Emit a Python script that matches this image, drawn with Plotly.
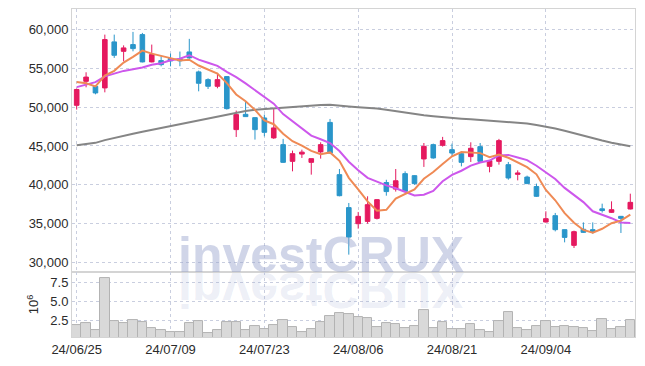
import plotly.graph_objects as go
from plotly.subplots import make_subplots

dates = [
    "2024-06-25", "2024-06-26", "2024-06-27", "2024-06-28",
    "2024-07-01", "2024-07-02", "2024-07-03", "2024-07-04", "2024-07-05",
    "2024-07-08", "2024-07-09", "2024-07-10", "2024-07-11", "2024-07-12",
    "2024-07-15", "2024-07-16", "2024-07-17", "2024-07-18", "2024-07-19",
    "2024-07-22", "2024-07-23", "2024-07-24", "2024-07-25", "2024-07-26",
    "2024-07-29", "2024-07-30", "2024-07-31", "2024-08-01", "2024-08-02",
    "2024-08-05", "2024-08-06", "2024-08-07", "2024-08-08", "2024-08-09",
    "2024-08-12", "2024-08-13", "2024-08-14", "2024-08-16",
    "2024-08-19", "2024-08-20", "2024-08-21", "2024-08-22", "2024-08-23",
    "2024-08-26", "2024-08-27", "2024-08-28", "2024-08-29", "2024-08-30",
    "2024-09-02", "2024-09-03", "2024-09-04", "2024-09-05", "2024-09-06",
    "2024-09-09", "2024-09-10", "2024-09-11", "2024-09-12", "2024-09-13",
    "2024-09-19", "2024-09-20",
]

opens = [50250, 53350, 52700, 52500, 58450, 57230, 58100, 59390, 55860, 56030,
         56290, 56250, 57150, 54570, 53570, 52710, 53960, 47110, 49090, 48660,
         48620, 46040, 45170, 43010, 43950, 42880, 44230, 48040, 41290, 37030,
         34950, 35250, 35640, 40270, 39420, 41420, 41160, 43320, 45170, 45080,
         44520, 44000, 43620, 44910, 42360, 43010, 42580, 41330, 40980, 39750,
         35170, 35990, 34180, 32150, 34230, 34180, 36870, 36420, 35900, 36850]
highs = [52400, 54520, 52800, 59390, 59390, 58000, 59740, 59610, 58100, 56590,
         56940, 57200, 58840, 54740, 53740, 54440, 54000, 49570, 50770, 48700,
         49050, 49790, 45910, 44400, 44520, 43360, 45470, 48490, 42020, 37630,
         36470, 38490, 38100, 40630, 42020, 41720, 41200, 45380, 45300, 46170,
         45300, 44100, 45470, 45380, 43150, 45910, 42930, 41850, 41160, 40130,
         36550, 36340, 34200, 34050, 35120, 35120, 37540, 37840, 35950, 38830]
lows = [49700, 52580, 51670, 51930, 56380, 55940, 57230, 55800, 55800, 55290,
        55290, 55300, 56250, 52060, 52360, 52450, 49700, 46160, 48750, 45820,
        46240, 45910, 42800, 41720, 43450, 41290, 43360, 44000, 38490, 30950,
        34310, 34950, 35500, 38570, 39100, 39050, 39990, 42290, 43350, 44910,
        43650, 42360, 42930, 42930, 41590, 42580, 40640, 40550, 40100, 38400,
        35100, 33960, 32540, 31810, 33750, 33660, 36390, 36340, 33750, 36800]
closes = [52300, 53900, 51850, 58750, 56720, 57670, 57580, 55860, 56810, 55510,
          55990, 56000, 56380, 53100, 52710, 53570, 49820, 49050, 48790, 47110,
          46760, 47330, 42880, 44000, 44200, 43360, 45170, 44080, 38570, 33220,
          35900, 37410, 38060, 39100, 40500, 39130, 40130, 44950, 43450, 45690,
          44080, 42880, 44700, 43010, 43100, 45690, 40860, 41500, 40130, 38490,
          35600, 34180, 33180, 33920, 33830, 33880, 36650, 36760, 35640, 37710]

ma5 = [53270, 53100, 52700, 54100, 54704, 55778, 56514, 57316, 56928, 56686,
       56350, 56034, 56138, 55396, 54836, 54352, 53116, 51650, 50788, 49668,
       48306, 47808, 46574, 45616, 45034, 44354, 43922, 44162, 43076, 40880,
       39388, 37836, 36632, 36738, 38194, 38840, 39384, 40762, 41632, 42670,
       43660, 44210, 44160, 44072, 43554, 43876, 43472, 42832, 42256, 41334,
       39316, 37980, 36316, 35074, 34142, 33798, 34292, 35008, 35352, 36128]
ma10 = [52600, 52950, 53250, 54000, 54400, 54700, 54900, 55130, 55500, 55695,
        56064, 56274, 56727, 56162, 55761, 55351, 54575, 53894, 53092, 52252,
        51329, 50462, 49112, 48202, 47351, 46330, 45865, 45368, 44346, 42957,
        41871, 40879, 40397, 39907, 39537, 39114, 38610, 38697, 39185, 40432,
        41250, 41797, 42461, 42852, 43112, 43768, 43841, 43496, 43164, 42444,
        41596, 40726, 39574, 38665, 37738, 36557, 36136, 35662, 35113, 35035]
ma_long = [45080, 45250, 45400, 45750, 46050, 46300, 46580, 46830, 47080, 47350,
           47600, 47820, 48030, 48280, 48550, 48800, 49100, 49350, 49530, 49680,
           49780, 49870, 49950, 50030, 50120, 50200, 50280, 50340, 50260, 50100,
           50000, 49950, 49830, 49690, 49500, 49320, 49120, 48980, 48850, 48720,
           48620, 48530, 48450, 48350, 48250, 48200, 48130, 48030, 47900, 47720,
           47520, 47250, 46960, 46630, 46320, 46000, 45700, 45420, 45170, 44970]

volume_m = [1.94, 2.16, 1.25, 8.02, 2.46, 2.20, 2.55, 2.29, 1.55, 1.25,
            0.99, 0.99, 2.20, 2.46, 0.90, 1.25, 2.29, 2.29, 1.25, 1.77,
            1.38, 1.90, 2.55, 1.64, 0.99, 1.38, 2.29, 3.02, 3.46, 3.33,
            2.94, 2.76, 1.64, 2.16, 2.03, 1.51, 1.72, 3.80, 1.51, 2.29,
            1.38, 1.38, 2.03, 1.25, 0.99, 2.46, 3.59, 1.51, 1.25, 1.77,
            2.42, 1.64, 1.77, 1.64, 1.51, 1.12, 2.68, 1.38, 1.64, 2.55]

tick_dates = ["2024-06-25", "2024-07-09", "2024-07-23", "2024-08-06", "2024-08-21", "2024-09-04"]
tick_labels = ["24/06/25", "24/07/09", "24/07/23", "24/08/06", "24/08/21", "24/09/04"]
price_ticks = [30000, 35000, 40000, 45000, 50000, 55000, 60000]
volume_ticks = [2.5, 5.0, 7.5]
volume_tick_labels = ["2.5", "5.0", "7.5"]
watermark = "investCRUX"

UP = "#e5195f"
DOWN = "#2a96ca"
GRID = "#c9cedf"
FRAME = "#d4d4d4"
TICKFONT = dict(family="Liberation Sans, Arial", size=13, color="#2b2b2b")

fig = make_subplots(rows=2, cols=1, shared_xaxes=True, vertical_spacing=0,
                    row_heights=[0.802, 0.198])

fig.add_trace(go.Candlestick(
    x=dates, open=opens, high=highs, low=lows, close=closes,
    increasing=dict(line=dict(color=UP, width=1), fillcolor=UP),
    decreasing=dict(line=dict(color=DOWN, width=1), fillcolor=DOWN),
    hoverinfo="skip"), row=1, col=1)
fig.add_trace(go.Scatter(x=dates, y=ma_long, mode="lines",
                         line=dict(color="#858585", width=2)), row=1, col=1)
fig.add_trace(go.Scatter(x=dates, y=ma10, mode="lines",
                         line=dict(color="#cd57ec", width=2)), row=1, col=1)
fig.add_trace(go.Scatter(x=dates, y=ma5, mode="lines",
                         line=dict(color="#ef8a55", width=2)), row=1, col=1)
fig.add_trace(go.Bar(x=dates, y=volume_m,
                     marker=dict(color="#d9d9d9", line=dict(color="#b3b3b3", width=1))),
              row=2, col=1)

fig.update_layout(
    width=645, height=366,
    margin=dict(l=72, r=10, t=9, b=29, autoexpand=False),
    plot_bgcolor="white", paper_bgcolor="white",
    showlegend=False, bargap=0,
    font=TICKFONT,
    annotations=[
        dict(text="<b>" + watermark + "</b>", xref="paper", yref="paper",
             x=0.442, y=0.2515, xanchor="center", yanchor="middle", showarrow=False,
             font=dict(family="Liberation Sans, Arial", size=50, color="rgba(150,162,205,0.45)"),
             borderpad=0),
        dict(text="<b>" + watermark + "</b>", xref="paper", yref="paper",
             x=0.442, y=0.1448, xanchor="center", yanchor="middle", showarrow=False,
             font=dict(family="Liberation Sans, Arial", size=50, color="rgba(150,162,205,0.18)"),
             borderpad=0),
    ],
)

fig.update_xaxes(type="category", range=[-0.5, 59.5], tickvals=tick_dates, ticktext=tick_labels,
                 showgrid=True, gridcolor=GRID, griddash="dot", gridwidth=1,
                 showline=True, linecolor=FRAME, mirror=True, ticks="",
                 rangeslider_visible=False, tickfont=TICKFONT, automargin=False)
fig.update_xaxes(showticklabels=False, row=1, col=1)

fig.update_yaxes(range=[28700, 62700], tickvals=price_ticks, tickformat=",d",
                 showgrid=True, gridcolor=GRID, griddash="dot", zeroline=False,
                 showline=True, linecolor=FRAME, mirror=True, ticks="",
                 tickfont=TICKFONT, automargin=False, row=1, col=1)
fig.update_yaxes(range=[0.34, 8.8], tickvals=volume_ticks, ticktext=volume_tick_labels,
                 showgrid=True, gridcolor=GRID, griddash="dot", zeroline=False,
                 showline=True, linecolor=FRAME, mirror=True, ticks="",
                 tickfont=TICKFONT, automargin=False,
                 title=dict(text="10<sup>6</sup>", font=TICKFONT, standoff=8),
                 row=2, col=1)

post = """
document.body.style.margin = '0';
document.body.style.padding = '0';
var gd = document.getElementById('{plot_id}');
function flipWatermark(){
  var anns = gd.querySelectorAll('.annotation');
  if (anns.length > 1) {
    var t = anns[1].querySelector('text');
    if (t) {
      t.style.transformBox = 'fill-box';
      t.style.transformOrigin = 'center';
      t.style.transform = 'scaleY(-1)';
    }
  }
}
flipWatermark();
gd.on('plotly_afterplot', flipWatermark);
"""

fig.write_html("out.html", post_script=post, config={"displayModeBar": False})
